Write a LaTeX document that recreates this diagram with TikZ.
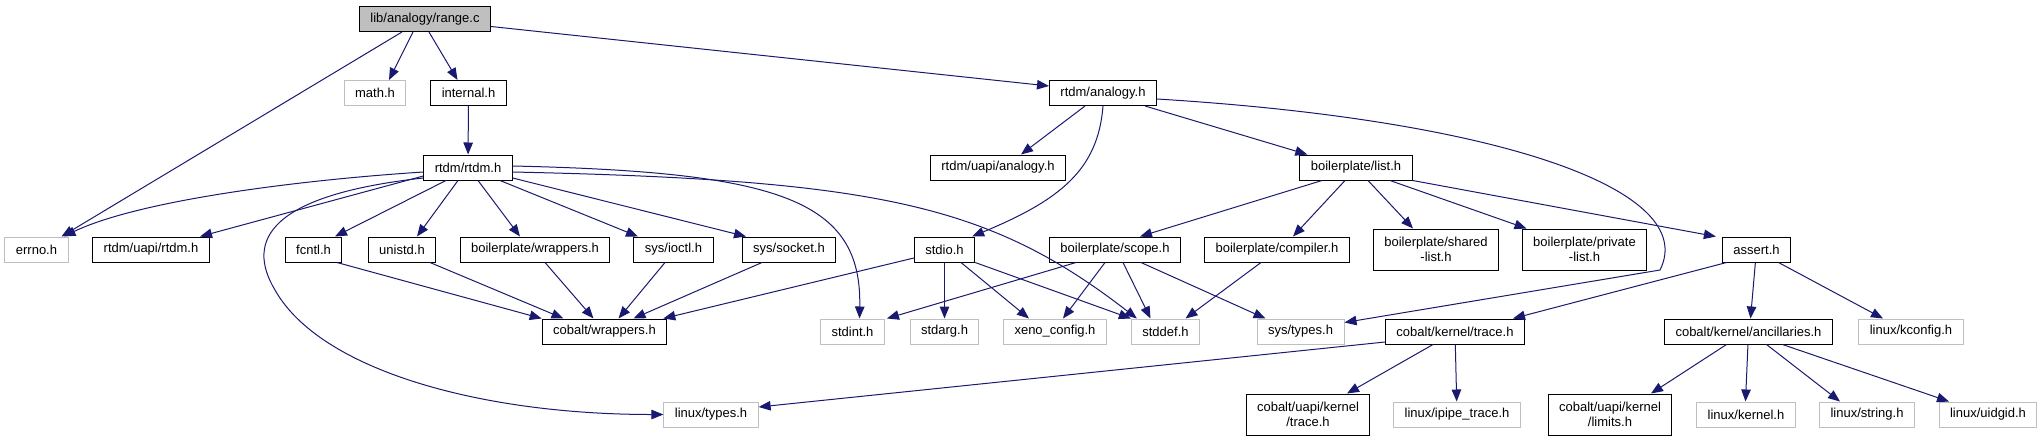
\documentclass[tikz,border=0pt]{standalone}
\usepackage{fontspec}
\setmainfont{Liberation Sans}
\usepackage{tikz}
\usetikzlibrary{arrows.meta, positioning, calc}
\definecolor{edgeblue}{RGB}{25, 25, 112}
\definecolor{missgray}{RGB}{191, 191, 191}

\tikzset{
  file/.style={draw=black, fill=white, line width=1pt, minimum height=25pt,
               inner xsep=11pt, inner ysep=2pt, font=\fontsize{13}{15}\selectfont},
  sysfile/.style={file, draw=missgray},
  twoline/.style={align=center, minimum height=41pt},
  dep/.style={draw=edgeblue, line width=1pt, -{Triangle[length=12pt, width=9.5pt]}}
}

\begin{document}
\begin{tikzpicture}[x=1pt, y=-1pt]
    \useasboundingbox (0,0) rectangle (2043,440);

    % rank 0 and 1
    \node[file, fill=missgray] (range) at (425,19) {lib/analogy/range.c};
    \node[sysfile] (math) at (375,93) {math.h};
    \node[file] (internal) at (468.5,93) {internal.h};
    \node[file] (analogy) at (1103,93) {rtdm/analogy.h};

    % rank 2
    \node[file] (rtdm) at (468,167.5) {rtdm/rtdm.h};
    \node[file] (uapianalogy) at (998,167.5) {rtdm/uapi/analogy.h};
    \node[file] (list) at (1356,167.5) {boilerplate/list.h};

    % rank 3
    \node[sysfile] (errno) at (36.5,249.5) {errno.h};
    \node[file] (uapirtdm) at (151,249.5) {rtdm/uapi/rtdm.h};
    \node[file] (fcntl) at (313.5,249.5) {fcntl.h};
    \node[file] (unistd) at (402,249.5) {unistd.h};
    \node[file] (bpwrappers) at (535,249.5) {boilerplate/wrappers.h};
    \node[file] (ioctl) at (673.5,249.5) {sys/ioctl.h};
    \node[file] (socket) at (789,249.5) {sys/socket.h};
    \node[file] (stdio) at (944.5,249.5) {stdio.h};
    \node[file] (scope) at (1115,249.5) {boilerplate/scope.h};
    \node[file] (compiler) at (1277,249.5) {boilerplate/compiler.h};
    \node[file, twoline] (sharedlist) at (1436,249.5) {boilerplate/shared\\-list.h};
    \node[file, twoline] (privatelist) at (1584.5,249.5) {boilerplate/private\\-list.h};
    \node[file] (assert) at (1756.5,249.5) {assert.h};

    % rank 4
    \node[file] (cwrappers) at (604.5,331.5) {cobalt/wrappers.h};
    \node[sysfile] (stdint) at (852.5,331.5) {stdint.h};
    \node[sysfile] (stdarg) at (944.5,331.5) {stdarg.h};
    \node[sysfile] (xeno) at (1055,331.5) {xeno\_config.h};
    \node[sysfile] (stddef) at (1165.5,331.5) {stddef.h};
    \node[sysfile] (systypes) at (1300.5,331.5) {sys/types.h};
    \node[file] (ktrace) at (1455,331.5) {cobalt/kernel/trace.h};
    \node[file] (ancillaries) at (1748.5,331.5) {cobalt/kernel/ancillaries.h};
    \node[sysfile] (kconfig) at (1911,331.5) {linux/kconfig.h};

    % rank 5
    \node[sysfile] (linuxtypes) at (711,414.5) {linux/types.h};
    \node[file, twoline] (uapitrace) at (1308,414.5) {cobalt/uapi/kernel\\/trace.h};
    \node[sysfile] (ipipe) at (1457,414.5) {linux/ipipe\_trace.h};
    \node[file, twoline] (uapilimits) at (1610,414.5) {cobalt/uapi/kernel\\/limits.h};
    \node[sysfile] (kernel) at (1746,414.5) {linux/kernel.h};
    \node[sysfile] (string) at (1867,414.5) {linux/string.h};
    \node[sysfile] (uidgid) at (1988,414.5) {linux/uidgid.h};

    % range.c
    \draw[dep] ([xshift=-23pt]range.south) -- ([xshift=25pt]errno.north);
    \draw[dep] ([xshift=-12pt]range.south) -- ([xshift=14pt]math.north);
    \draw[dep] ([xshift=4pt]range.south) -- ([xshift=-11pt]internal.north);
    \draw[dep] ([yshift=-7.5pt]range.east) -- ([yshift=7pt]analogy.west);
    \draw[dep] (internal) -- (rtdm);

    % rtdm/rtdm.h
    \draw[dep] ([yshift=-4.5pt]rtdm.west) .. controls (300,180) and (140,200) .. ([xshift=27pt]errno.north);
    \draw[dep] ([yshift=-8.5pt]rtdm.west) -- ([xshift=49pt]uapirtdm.north);
    \draw[dep] ([yshift=-10.5pt]rtdm.west) .. controls (270,195) and (245,240) .. (275,290)
        .. controls (320,370) and (480,414.5) .. (linuxtypes.west);
    \draw[dep] ([xshift=-22pt]rtdm.south) -- ([xshift=21.5pt]fcntl.north);
    \draw[dep] ([xshift=-10pt]rtdm.south) -- ([xshift=15pt]unistd.north);
    \draw[dep] ([xshift=10pt]rtdm.south) -- ([xshift=-15pt]bpwrappers.north);
    \draw[dep] ([xshift=32pt]rtdm.south) -- ([xshift=-35.5pt]ioctl.north);
    \draw[dep] ([yshift=-10.5pt]rtdm.east) -- ([xshift=-43pt]socket.north);
    \draw[dep] ([yshift=1.5pt]rtdm.east) .. controls (780,172) and (862,200) .. ([xshift=7pt]stdint.north);
    \draw[dep] ([yshift=-4.5pt]rtdm.east) .. controls (880,180) and (990,205) .. ([xshift=6pt]stddef.north west);

    % first level headers to cobalt/wrappers.h
    \draw[dep] ([xshift=23.5pt]fcntl.south) -- (cwrappers.north west);
    \draw[dep] ([xshift=28pt]unistd.south) -- ([xshift=-41pt]cwrappers.north);
    \draw[dep] ([xshift=10pt]bpwrappers.south) -- ([xshift=-11pt]cwrappers.north);
    \draw[dep] ([xshift=-8.5pt]ioctl.south) -- ([xshift=14pt]cwrappers.north);
    \draw[dep] ([xshift=-27pt]socket.south) -- ([xshift=29pt]cwrappers.north);

    % stdio.h
    \draw[dep] ([yshift=-8.5pt]stdio.west) -- ([xshift=-4pt]cwrappers.north east);
    \draw[dep] (stdio) -- (stdarg);
    \draw[dep] ([xshift=16.5pt]stdio.south) -- ([xshift=-26pt]xeno.north);
    \draw[dep] (stdio.south east) -- (stddef.north west);

    % rtdm/analogy.h
    \draw[dep] ([xshift=-18pt]analogy.south) -- ([xshift=23pt]uapianalogy.north);
    \draw[dep] (analogy.south) .. controls (1098,170) and (1060,200) .. ([xshift=-3pt]stdio.north east);
    \draw[dep] ([xshift=-12pt]analogy.south east) -- ([xshift=8pt]list.north west);
    \draw[dep] ([yshift=-6pt]analogy.east) .. controls (1500,120) and (1700,190) .. (1660,270)
        -- ([yshift=9pt]systypes.east);

    % boilerplate/list.h
    \draw[dep] ([xshift=-34pt]list.south) -- ([xshift=25pt]scope.north);
    \draw[dep] ([xshift=-11pt]list.south) -- ([xshift=16pt]compiler.north);
    \draw[dep] ([xshift=12pt]list.south) -- ([xshift=-23pt]sharedlist.north);
    \draw[dep] ([xshift=34pt]list.south) -- ([xshift=-58pt]privatelist.north);
    \draw[dep] (list.south east) -- ([xshift=-6pt]assert.north west);

    % boilerplate/scope.h and compiler.h
    \draw[dep] ([xshift=-39pt]scope.south) -- ([xshift=2pt]stdint.north east);
    \draw[dep] ([xshift=-10pt]scope.south) -- ([xshift=8pt]xeno.north);
    \draw[dep] ([xshift=8pt]scope.south) -- ([xshift=-15pt]stddef.north);
    \draw[dep] ([xshift=26pt]scope.south) -- ([xshift=-35pt]systypes.north);
    \draw[dep] ([xshift=-16pt]compiler.south) -- ([xshift=20pt]stddef.north);

    % assert.h
    \draw[dep] ([xshift=-30pt]assert.south) -- ([xshift=58pt]ktrace.north);
    \draw[dep] (assert) -- ([xshift=2pt]ancillaries.north);
    \draw[dep] ([xshift=22pt]assert.south) -- ([xshift=-28pt]kconfig.north);

    % cobalt/kernel
    \draw[dep] ([yshift=-10.5pt]ktrace.west) -- ([yshift=7.5pt]linuxtypes.east);
    \draw[dep] ([xshift=-22pt]ktrace.south) -- ([xshift=39pt]uapitrace.north);
    \draw[dep] (ktrace) -- (ipipe);
    \draw[dep] ([xshift=-22pt]ancillaries.south) -- ([xshift=41pt]uapilimits.north);
    \draw[dep] (ancillaries) -- ([xshift=-0.5pt]kernel.north);
    \draw[dep] ([xshift=18pt]ancillaries.south) -- ([xshift=-27pt]string.north);
    \draw[dep] ([xshift=34pt]ancillaries.south) -- ([xshift=-39pt]uidgid.north);
\end{tikzpicture}
\end{document}
